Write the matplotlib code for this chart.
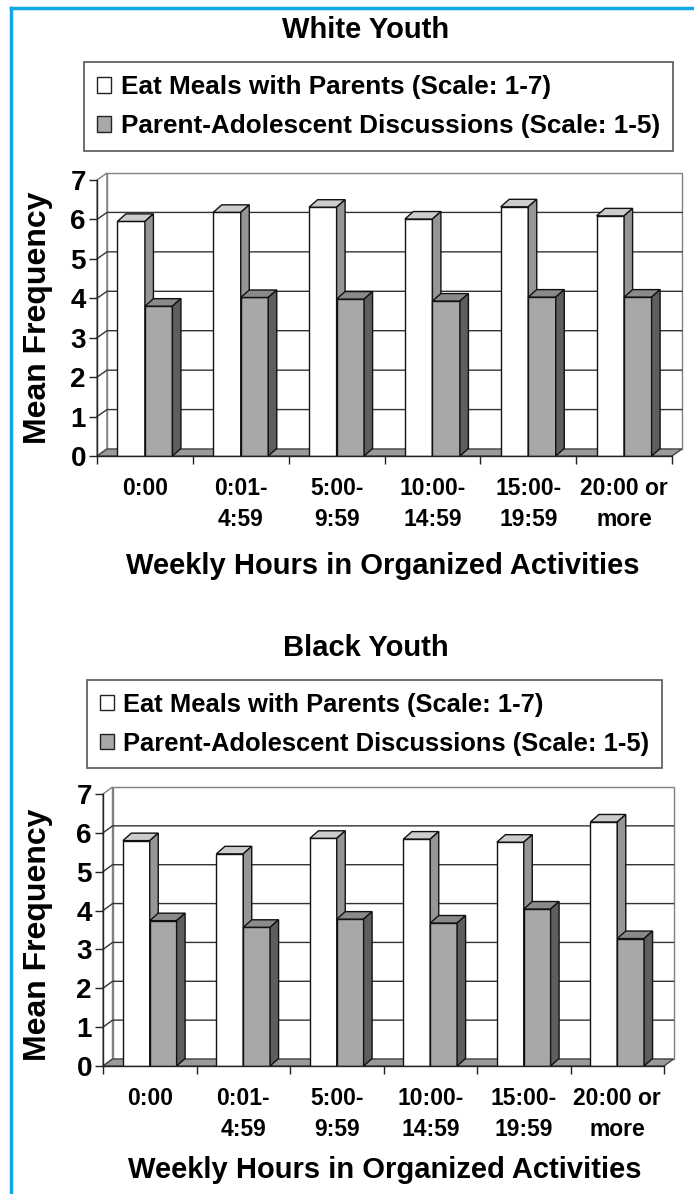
import matplotlib
matplotlib.use("Agg")
import matplotlib.pyplot as plt
from matplotlib.patches import Polygon, Rectangle, Patch
from matplotlib.lines import Line2D

# ---------------- data ----------------
categories = ["0:00", "0:01-\n4:59", "5:00-\n9:59", "10:00-\n14:59", "15:00-\n19:59", "20:00 or\nmore"]
white_meals = [5.95, 6.18, 6.31, 6.01, 6.32, 6.09]
white_disc = [3.80, 4.02, 3.98, 3.93, 4.03, 4.03]
black_meals = [5.80, 5.46, 5.86, 5.84, 5.76, 6.28]
black_disc = [3.74, 3.57, 3.78, 3.68, 4.04, 3.28]
yticks = [0, 1, 2, 3, 4, 5, 6, 7]
series_labels = ["Eat Meals with Parents (Scale: 1-7)",
                 "Parent-Adolescent Discussions (Scale: 1-5)"]
panel_titles = ["White Youth", "Black Youth"]
xlabel_text = "Weekly Hours in Organized Activities"
ylabel_text = "Mean Frequency"

# ---------------- style ----------------
W, H = 694, 1194
FONT = "Liberation Sans"
plt.rcParams["font.family"] = [FONT, "DejaVu Sans"]
plt.rcParams["font.weight"] = "bold"

C_WHITE_FRONT = "#FFFFFF"
C_WHITE_TOP = "#CCCCCC"
C_WHITE_SIDE = "#969696"
C_GRAY_FRONT = "#A8A8A8"
C_GRAY_TOP = "#8A8A8A"
C_GRAY_SIDE = "#5E5E5E"
C_FLOOR = "#9A9A9A"
C_GRID = "#333333"
C_WALL = "#808080"
C_EDGE = "#111111"
BLUE = "#12A8E6"

fig = plt.figure(figsize=(W / 100, H / 100), dpi=100)


def fx(px):
    return px / W


def fy(py):
    return 1 - py / H


def draw_panel(ax, meals, disc, wall_dx_px, wall_dy_px, bar_dx_px, bar_dy_px):
    n = len(categories)
    ymax = yticks[-1]
    ax.set_xlim(0, n)
    ax.set_ylim(0, ymax)
    bb = ax.get_position()
    ax_w_px = bb.width * W
    ax_h_px = bb.height * H
    ux = n / ax_w_px        # data units per px (x)
    uy = ymax / ax_h_px     # data units per px (y)
    wdx, wdy = wall_dx_px * ux, wall_dy_px * uy
    bdx, bdy = bar_dx_px * ux, bar_dy_px * uy

    # back wall & side wall
    ax.add_patch(Polygon([(0, 0), (wdx, wdy), (wdx, ymax + wdy), (0, ymax)],
                         closed=True, fc="white", ec=C_WALL, lw=1.0,
                         clip_on=False, zorder=1))
    ax.add_patch(Rectangle((wdx, wdy), n, ymax, fc="white", ec=C_WALL, lw=1.0,
                           clip_on=False, zorder=1))
    # gridlines on side wall + back wall
    for k in yticks[1:-1]:
        ax.add_line(Line2D([0, wdx, n + wdx], [k, k + wdy, k + wdy],
                           color=C_GRID, lw=1.0, clip_on=False, zorder=2))
    # floor
    ax.add_patch(Polygon([(0, 0), (n, 0), (n + wdx, wdy), (wdx, wdy)],
                         closed=True, fc=C_FLOOR, ec="#444444", lw=1.0,
                         clip_on=False, zorder=2))

    bw = 0.287
    xs = list(range(n))
    # front faces through the library's bar function
    left_w = [i + 0.5 - bw for i in xs]
    left_g = [i + 0.5 for i in xs]
    ax.bar(left_w, meals, width=bw, align="edge", color=C_WHITE_FRONT,
           edgecolor=C_EDGE, linewidth=1.0, zorder=3)
    ax.bar(left_g, disc, width=bw, align="edge", color=C_GRAY_FRONT,
           edgecolor=C_EDGE, linewidth=1.0, zorder=6)
    # 3-D faces
    for i in xs:
        for x0, v, ctop, cside, z in ((left_w[i], meals[i], C_WHITE_TOP, C_WHITE_SIDE, 4),
                                      (left_g[i], disc[i], C_GRAY_TOP, C_GRAY_SIDE, 7)):
            x1 = x0 + bw
            ax.add_patch(Polygon([(x0, v), (x0 + bdx, v + bdy), (x1 + bdx, v + bdy), (x1, v)],
                                 closed=True, fc=ctop, ec=C_EDGE, lw=1.0,
                                 clip_on=False, zorder=z))
            ax.add_patch(Polygon([(x1, 0), (x1 + bdx, bdy), (x1 + bdx, v + bdy), (x1, v)],
                                 closed=True, fc=cside, ec=C_EDGE, lw=1.0,
                                 clip_on=False, zorder=z))

    # axes styling
    for s in ("top", "right"):
        ax.spines[s].set_visible(False)
    for s in ("left", "bottom"):
        ax.spines[s].set_color("#222222")
        ax.spines[s].set_linewidth(1.0)
        ax.spines[s].set_zorder(8)
    ax.patch.set_visible(False)
    ax.set_yticks(yticks)
    ax.set_yticklabels([str(t) for t in yticks], fontsize=20, fontweight="bold")
    ax.set_xticks(list(range(n + 1)))
    ax.set_xticklabels([])
    ax.set_xticks([i + 0.5 for i in xs], minor=True)
    ax.set_xticklabels(categories, minor=True, fontsize=16.5, fontweight="bold",
                       linespacing=1.45)
    ax.tick_params(axis="x", which="major", direction="out", length=6, width=1.0,
                   color="#222222")
    ax.tick_params(axis="x", which="minor", length=0, pad=15)
    ax.tick_params(axis="y", direction="out", length=6, width=1.0, color="#222222",
                   pad=2)


def add_legend(x_px, y_px, size):
    handles = [Patch(fc=C_WHITE_FRONT, ec="#222222", lw=1.0),
               Patch(fc=C_GRAY_FRONT, ec="#222222", lw=1.0)]
    leg = fig.legend(handles, series_labels, loc="upper left",
                     bbox_to_anchor=(fx(x_px), fy(y_px)), borderaxespad=0,
                     frameon=True, fancybox=False, framealpha=1,
                     edgecolor="#555555",
                     prop={"family": FONT, "weight": "bold", "size": size},
                     handlelength=0.55, handleheight=0.55, handletextpad=0.35,
                     labelspacing=0.58, borderpad=0.5)
    leg.get_frame().set_linewidth(1.2)
    return leg


# ---------------- panels ----------------
ax1 = fig.add_axes([fx(97), fy(456), fx(672) - fx(97), fy(180) - fy(456)])
draw_panel(ax1, white_meals, white_disc, 10, 7, 8.5, 7.5)
ax2 = fig.add_axes([fx(103), fy(1066), fx(664) - fx(103), fy(794) - fy(1066)])
draw_panel(ax2, black_meals, black_disc, 9.5, 7, 8.5, 7.5)

fig.text(fx(366), fy(30), panel_titles[0], ha="center", va="center",
         fontsize=21, fontweight="bold")
fig.text(fx(366), fy(648), panel_titles[1], ha="center", va="center",
         fontsize=21, fontweight="bold")
add_legend(84, 62, 18.8)
add_legend(87, 680, 18.4)

fig.text(fx(383), fy(566), xlabel_text, ha="center", va="center",
         fontsize=21, fontweight="bold")
fig.text(fx(385), fy(1170), xlabel_text, ha="center", va="center",
         fontsize=21, fontweight="bold")
fig.text(fx(38), fy(318), ylabel_text, ha="center", va="center", rotation=90,
         fontsize=23, fontweight="bold")
fig.text(fx(38), fy(935), ylabel_text, ha="center", va="center", rotation=90,
         fontsize=23, fontweight="bold")

# blue frame (top and left)
fig.add_artist(Line2D([fx(11), 1.0], [fy(8), fy(8)], color=BLUE, lw=2.5,
                      transform=fig.transFigure))
fig.add_artist(Line2D([fx(11), fx(11)], [fy(8), 0.0], color=BLUE, lw=2.5,
                      transform=fig.transFigure))

fig.savefig("out.png", dpi=100, facecolor="white")
